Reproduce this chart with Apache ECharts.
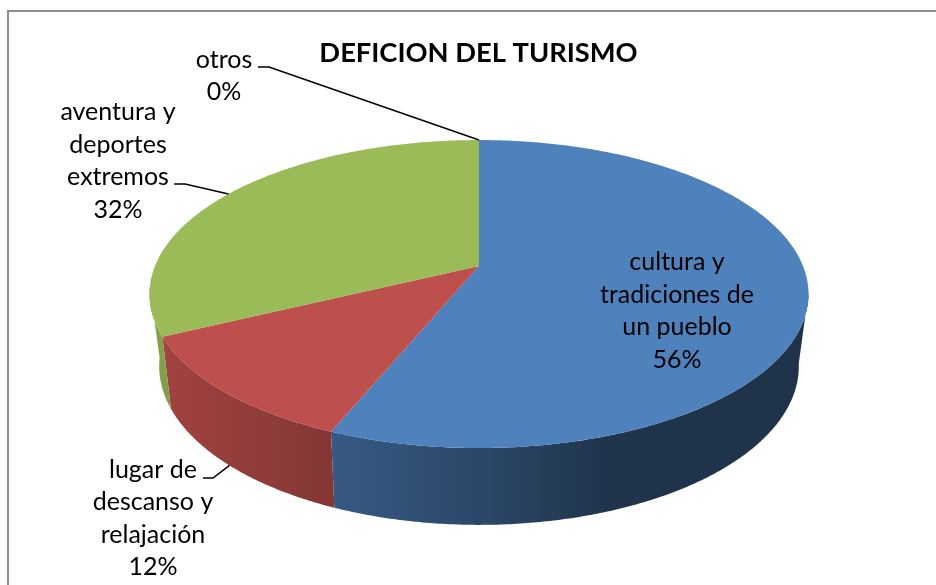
<!DOCTYPE html>
<html>
<head>
<meta charset="utf-8">
<style>html,body{margin:0;padding:0;background:#fff}#c{width:936px;height:585px}</style>
<script src="https://cdn.jsdelivr.net/npm/echarts@6/dist/echarts.min.js"></script>
</head>
<body>
<div id="c"></div>
<script>
// ---- data ----
const categories = [
  'cultura y\ntradiciones de\nun pueblo',
  'lugar de\ndescanso y\nrelajación',
  'aventura y\ndeportes\nextremos',
  'otros'
];
const values = [56.2, 11.6, 32.2, 0];
const titleText = 'DEFICION DEL TURISMO';

// ---- styles and layout ----
const topColors = ['#4f81bd', '#bd4f4c', '#9bbb59', '#8064a2'];
const topDisc = {cx: 479, cy: 266, R: 324, B: 148.9, k: 0.182};
const bottomDisc = {cx: 479, cy: 336, R: 314, B: 153, k: 0.19};
const VISIBLE_FROM = 100, VISIBLE_TO = 262;
const labelCenters = [[677, 311], [153, 518.5], [118, 161], [224, 76]];
const leaderElbows = [null, [[213, 478], [203, 478]], [[185, 184], [174, 184]], [[269, 67], [258, 67]]];
const leaderOnBottom = [false, true, false, false];
const shadeStops = [[150, .86], [330, .70], [500, .53], [610, .40], [810, .39]];
const FONT = 'Lato, "Open Sans", sans-serif';

// ---- geometry ----
function project(d, deg) {
  const t = deg * Math.PI / 180, u = Math.sin(t), v = Math.cos(t), den = 1 + d.k * v;
  return [d.cx + d.R * u / den, d.cy - d.B * v / den];
}
const total = values.reduce((a, b) => a + b, 0);
const spans = [];
values.reduce((acc, v) => {
  const next = acc + v / total * 360;
  spans.push([acc, next]);
  return next;
}, 0);
function arc(d, a, b) {
  const pts = [], n = Math.max(2, Math.ceil(Math.abs(b - a) * 2));
  for (let i = 0; i <= n; i++) pts.push(project(d, a + (b - a) * i / n));
  return pts;
}
function shade(x) {
  for (let i = 1; i < shadeStops.length; i++) {
    if (x <= shadeStops[i][0]) {
      const [x0, s0] = shadeStops[i - 1], [x1, s1] = shadeStops[i];
      return s0 + (s1 - s0) * Math.max(0, x - x0) / (x1 - x0);
    }
  }
  return shadeStops[shadeStops.length - 1][1];
}
function darken(hex, s) {
  const n = parseInt(hex.slice(1), 16);
  return `rgb(${Math.round((n >> 16) * s)},${Math.round(((n >> 8) & 255) * s)},${Math.round((n & 255) * s)})`;
}
function sideGradient(pts, hex) {
  const xs = pts.map(p => p[0]), x0 = Math.min(...xs), x1 = Math.max(...xs), stops = [];
  for (let i = 0; i <= 12; i++) {
    const f = i / 12;
    stops.push({offset: f, color: darken(hex, shade(x0 + (x1 - x0) * f))});
  }
  return new echarts.graphic.LinearGradient(0, 0, 1, 0, stops);
}
const idx = values.map((_, i) => i);

const chart = echarts.init(document.getElementById('c'), null, {renderer: 'canvas'});
chart.setOption({
  animation: false,
  backgroundColor: '#fff',
  title: {
    text: titleText, left: 473.5, top: 35, textAlign: 'center',
    textStyle: {fontFamily: FONT, fontWeight: 'bold', fontSize: 27.3, color: '#000'}
  },
  graphic: [{
    type: 'rect', silent: true, z: 0,
    shape: {x: 8, y: 11, width: 1200, height: 1200},
    style: {fill: 'none', stroke: '#8e8e8e', lineWidth: 2}
  }],
  series: [
    { // side walls
      type: 'custom', coordinateSystem: 'none', silent: true, z: 2, data: idx,
      renderItem(p, api) {
        const i = api.value(0);
        const a = Math.max(spans[i][0], VISIBLE_FROM), b = Math.min(spans[i][1], VISIBLE_TO);
        if (b <= a) return null;
        const pts = arc(topDisc, a, b).concat(arc(bottomDisc, b, a));
        return {type: 'polygon', shape: {points: pts}, style: {fill: sideGradient(pts, topColors[i])}};
      }
    },
    { // top surface
      type: 'custom', coordinateSystem: 'none', silent: true, z: 3, data: idx,
      renderItem(p, api) {
        const i = api.value(0);
        if (spans[i][1] - spans[i][0] <= 0) return null;
        const pts = [[topDisc.cx, topDisc.cy]].concat(arc(topDisc, spans[i][0], spans[i][1]));
        return {type: 'polygon', shape: {points: pts}, style: {fill: topColors[i]}};
      }
    },
    { // labels and leader lines
      type: 'custom', coordinateSystem: 'none', silent: true, z: 4, data: idx,
      renderItem(p, api) {
        const i = api.value(0), children = [];
        const pct = Math.round(values[i] / total * 100) + '%';
        children.push({
          type: 'text', x: labelCenters[i][0], y: labelCenters[i][1],
          style: {
            text: categories[i] + '\n' + pct, fontFamily: FONT, fontSize: 25,
            lineHeight: 32.5, fill: '#000', align: 'center', verticalAlign: 'middle'
          }
        });
        if (leaderElbows[i]) {
          const mid = (spans[i][0] + spans[i][1]) / 2;
          const anchor = project(leaderOnBottom[i] ? bottomDisc : topDisc, mid);
          children.push({
            type: 'polyline',
            shape: {points: [anchor].concat(leaderElbows[i])},
            style: {fill: 'none', stroke: '#000', lineWidth: 1.5}
          });
        }
        return {type: 'group', children};
      }
    }
  ]
});
</script>
</body>
</html>
